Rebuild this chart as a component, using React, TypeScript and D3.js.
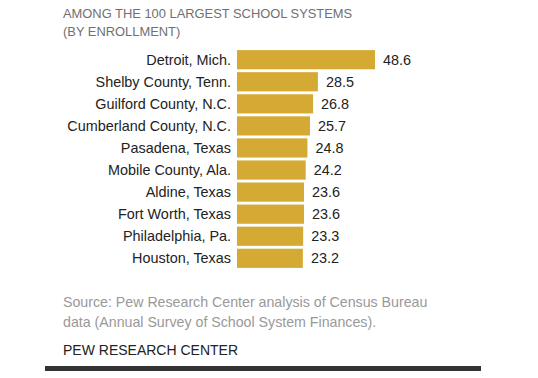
import React from "react";
import * as d3 from "d3";

const categories = [
  "Detroit, Mich.",
  "Shelby County, Tenn.",
  "Guilford County, N.C.",
  "Cumberland County, N.C.",
  "Pasadena, Texas",
  "Mobile County, Ala.",
  "Aldine, Texas",
  "Fort Worth, Texas",
  "Philadelphia, Pa.",
  "Houston, Texas",
];
const values = [48.6, 28.5, 26.8, 25.7, 24.8, 24.2, 23.6, 23.6, 23.3, 23.2];
const titleLines = ["AMONG THE 100 LARGEST SCHOOL SYSTEMS", "(BY ENROLLMENT)"];
const sourceLines = [
  "Source: Pew Research Center analysis of Census Bureau",
  "data (Annual Survey of School System Finances).",
];
const credit = "PEW RESEARCH CENTER";

export default function App() {
  const W = 538;
  const H = 378;
  const x0 = 237;
  const x = d3.scaleLinear().domain([0, 48.6]).range([x0, 375]);
  const y = d3
    .scaleBand()
    .domain(categories)
    .range([49, 269])
    .paddingInner(0.13)
    .paddingOuter(0.05);
  const font = "'Liberation Sans', Arial, sans-serif";
  return (
    <svg
      width={W}
      height={H}
      style={{ position: "absolute", left: 0, top: 0, background: "#fff" }}
      fontFamily={font}
    >
      {titleLines.map((t, i) => (
        <text key={t} x={63} y={18 + i * 18} fontSize={12.9} fill="#707070">
          {t}
        </text>
      ))}
      {categories.map((c, i) => {
        const yy = y(c)!;
        const bw = y.bandwidth();
        return (
          <g key={c}>
            <rect x={x0} y={yy} width={x(values[i]) - x0} height={bw} fill="#d4aa34" />
            <text x={231} y={yy + bw / 2 + 5} textAnchor="end" fontSize={14.4} fill="#222">
              {c}
            </text>
            <text x={x(values[i]) + 8} y={yy + bw / 2 + 5} fontSize={14.4} fill="#222">
              {values[i].toFixed(1)}
            </text>
          </g>
        );
      })}
      {sourceLines.map((t, i) => (
        <text key={t} x={63} y={307 + i * 20} fontSize={14.2} fill="#999">
          {t}
        </text>
      ))}
      <text x={63} y={355} fontSize={14} fill="#222">
        {credit}
      </text>
      <rect x={45} y={366} width={436} height={5} fill="#333" />
    </svg>
  );
}
